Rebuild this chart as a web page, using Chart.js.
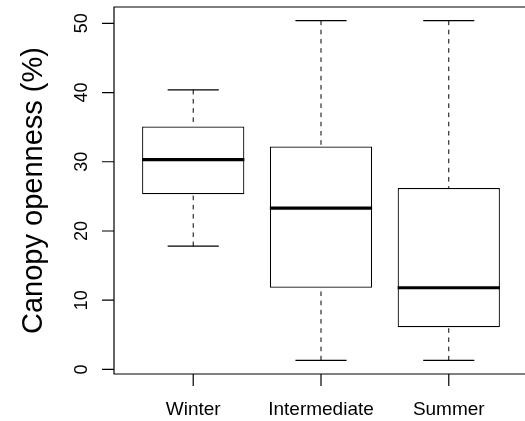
<!DOCTYPE html>
<html><head><meta charset="utf-8">
<script src="https://cdn.jsdelivr.net/npm/chart.js@4.4.0/dist/chart.umd.min.js"></script>
<style>html,body{margin:0;padding:0;overflow:hidden;background:#fff;width:525px;height:421px}#wrap{width:525px;height:421px;overflow:hidden;position:relative}</style>
</head><body>
<div id="wrap"><canvas id="c" width="530" height="421" style="width:530px;height:421px;display:block"></canvas></div>
<script>
const categories = ['Winter', 'Intermediate', 'Summer'];
const whiskerLow = [17.8, 1.3, 1.3];
const q1 = [25.3, 11.8, 6.1];
const medians = [30.3, 23.3, 11.8];
const q3 = [35.1, 32.2, 26.2];
const whiskerHigh = [40.4, 50.4, 50.4];
const yTicks = [0, 10, 20, 30, 40, 50];
const yTitle = 'Canopy openness (%)';

const FONT = 'Liberation Sans, Arial, Helvetica, sans-serif';

const boxplotPlugin = {
  id: 'boxplotExtras',
  afterDatasetsDraw(chart) {
    const ctx = chart.ctx;
    const xs = chart.scales.x, ys = chart.scales.y;
    const meta = chart.getDatasetMeta(0);
    ctx.save();
    categories.forEach((c, i) => {
      const bar = meta.data[i];
      const w = bar.width;
      const cx = xs.getPixelForValue(i + 1);
      const yLo = ys.getPixelForValue(whiskerLow[i]);
      const yHi = ys.getPixelForValue(whiskerHigh[i]);
      const yQ1 = ys.getPixelForValue(q1[i]);
      const yQ3 = ys.getPixelForValue(q3[i]);
      const yMed = ys.getPixelForValue(medians[i]);
      ctx.strokeStyle = '#000';
      ctx.lineWidth = 1;
      ctx.setLineDash([4.6, 4.6]);
      ctx.beginPath();
      ctx.moveTo(cx, yHi); ctx.lineTo(cx, yQ3);
      ctx.moveTo(cx, yLo); ctx.lineTo(cx, yQ1);
      ctx.stroke();
      ctx.setLineDash([]);
      ctx.lineWidth = 1.2;
      ctx.beginPath();
      ctx.moveTo(cx - w / 4, yHi); ctx.lineTo(cx + w / 4, yHi);
      ctx.moveTo(cx - w / 4, yLo); ctx.lineTo(cx + w / 4, yLo);
      ctx.stroke();
      ctx.lineWidth = 3.2;
      ctx.beginPath();
      ctx.moveTo(cx - w / 2, yMed); ctx.lineTo(cx + w / 2, yMed);
      ctx.stroke();
    });
    ctx.restore();
  },
  afterDraw(chart) {
    const ctx = chart.ctx;
    const a = chart.chartArea;
    const xs = chart.scales.x, ys = chart.scales.y;
    ctx.save();
    ctx.strokeStyle = '#000';
    ctx.lineWidth = 1.2;
    ctx.beginPath();
    ctx.moveTo(a.right, a.top); ctx.lineTo(a.left, a.top);
    ctx.lineTo(a.left, a.bottom); ctx.lineTo(a.right, a.bottom);
    ctx.stroke();
    ctx.beginPath();
    yTicks.forEach(v => {
      const y = ys.getPixelForValue(v);
      ctx.moveTo(a.left, y); ctx.lineTo(a.left - 12, y);
    });
    categories.forEach((c, i) => {
      const x = xs.getPixelForValue(i + 1);
      ctx.moveTo(x, a.bottom); ctx.lineTo(x, a.bottom + 12);
    });
    ctx.stroke();
    ctx.fillStyle = '#000';
    ctx.font = '19px ' + FONT;
    ctx.textAlign = 'center';
    ctx.textBaseline = 'alphabetic';
    categories.forEach((c, i) => {
      const x = xs.getPixelForValue(i + 1);
      ctx.fillText(c, x, a.bottom + 41);
    });
    ctx.font = '18px ' + FONT;
    yTicks.forEach(v => {
      const y = ys.getPixelForValue(v);
      ctx.save();
      ctx.translate(a.left - 27, y);
      ctx.rotate(-Math.PI / 2);
      ctx.fillText(String(v), 0, 0);
      ctx.restore();
    });
    ctx.font = '29px ' + FONT;
    ctx.save();
    ctx.translate(42, (a.top + a.bottom) / 2);
    ctx.rotate(-Math.PI / 2);
    ctx.fillText(yTitle, 0, 0);
    ctx.restore();
    ctx.restore();
  }
};

new Chart(document.getElementById('c'), {
  type: 'bar',
  data: {
    datasets: [{
      data: categories.map((c, i) => ({ x: i + 1, y: [q1[i], q3[i]] })),
      backgroundColor: '#fff',
      borderColor: '#000',
      borderWidth: 1.2,
      borderSkipped: false,
      barPercentage: 0.8,
      categoryPercentage: 1.0
    }]
  },
  options: {
    responsive: false,
    animation: false,
    layout: { padding: { left: 114, right: 2, top: 7, bottom: 47 } },
    plugins: { legend: { display: false }, tooltip: { enabled: false } },
    scales: {
      x: {
        type: 'linear', min: 0.38, max: 3.62, offset: false, display: false,
        afterBuildTicks: s => { s.ticks = categories.map((c, i) => ({ value: i + 1 })); }
      },
      y: {
        type: 'linear', min: -0.66, max: 52.36, display: false,
        afterBuildTicks: s => { s.ticks = yTicks.map(v => ({ value: v })); }
      }
    }
  },
  plugins: [boxplotPlugin]
});
</script>
</body></html>
